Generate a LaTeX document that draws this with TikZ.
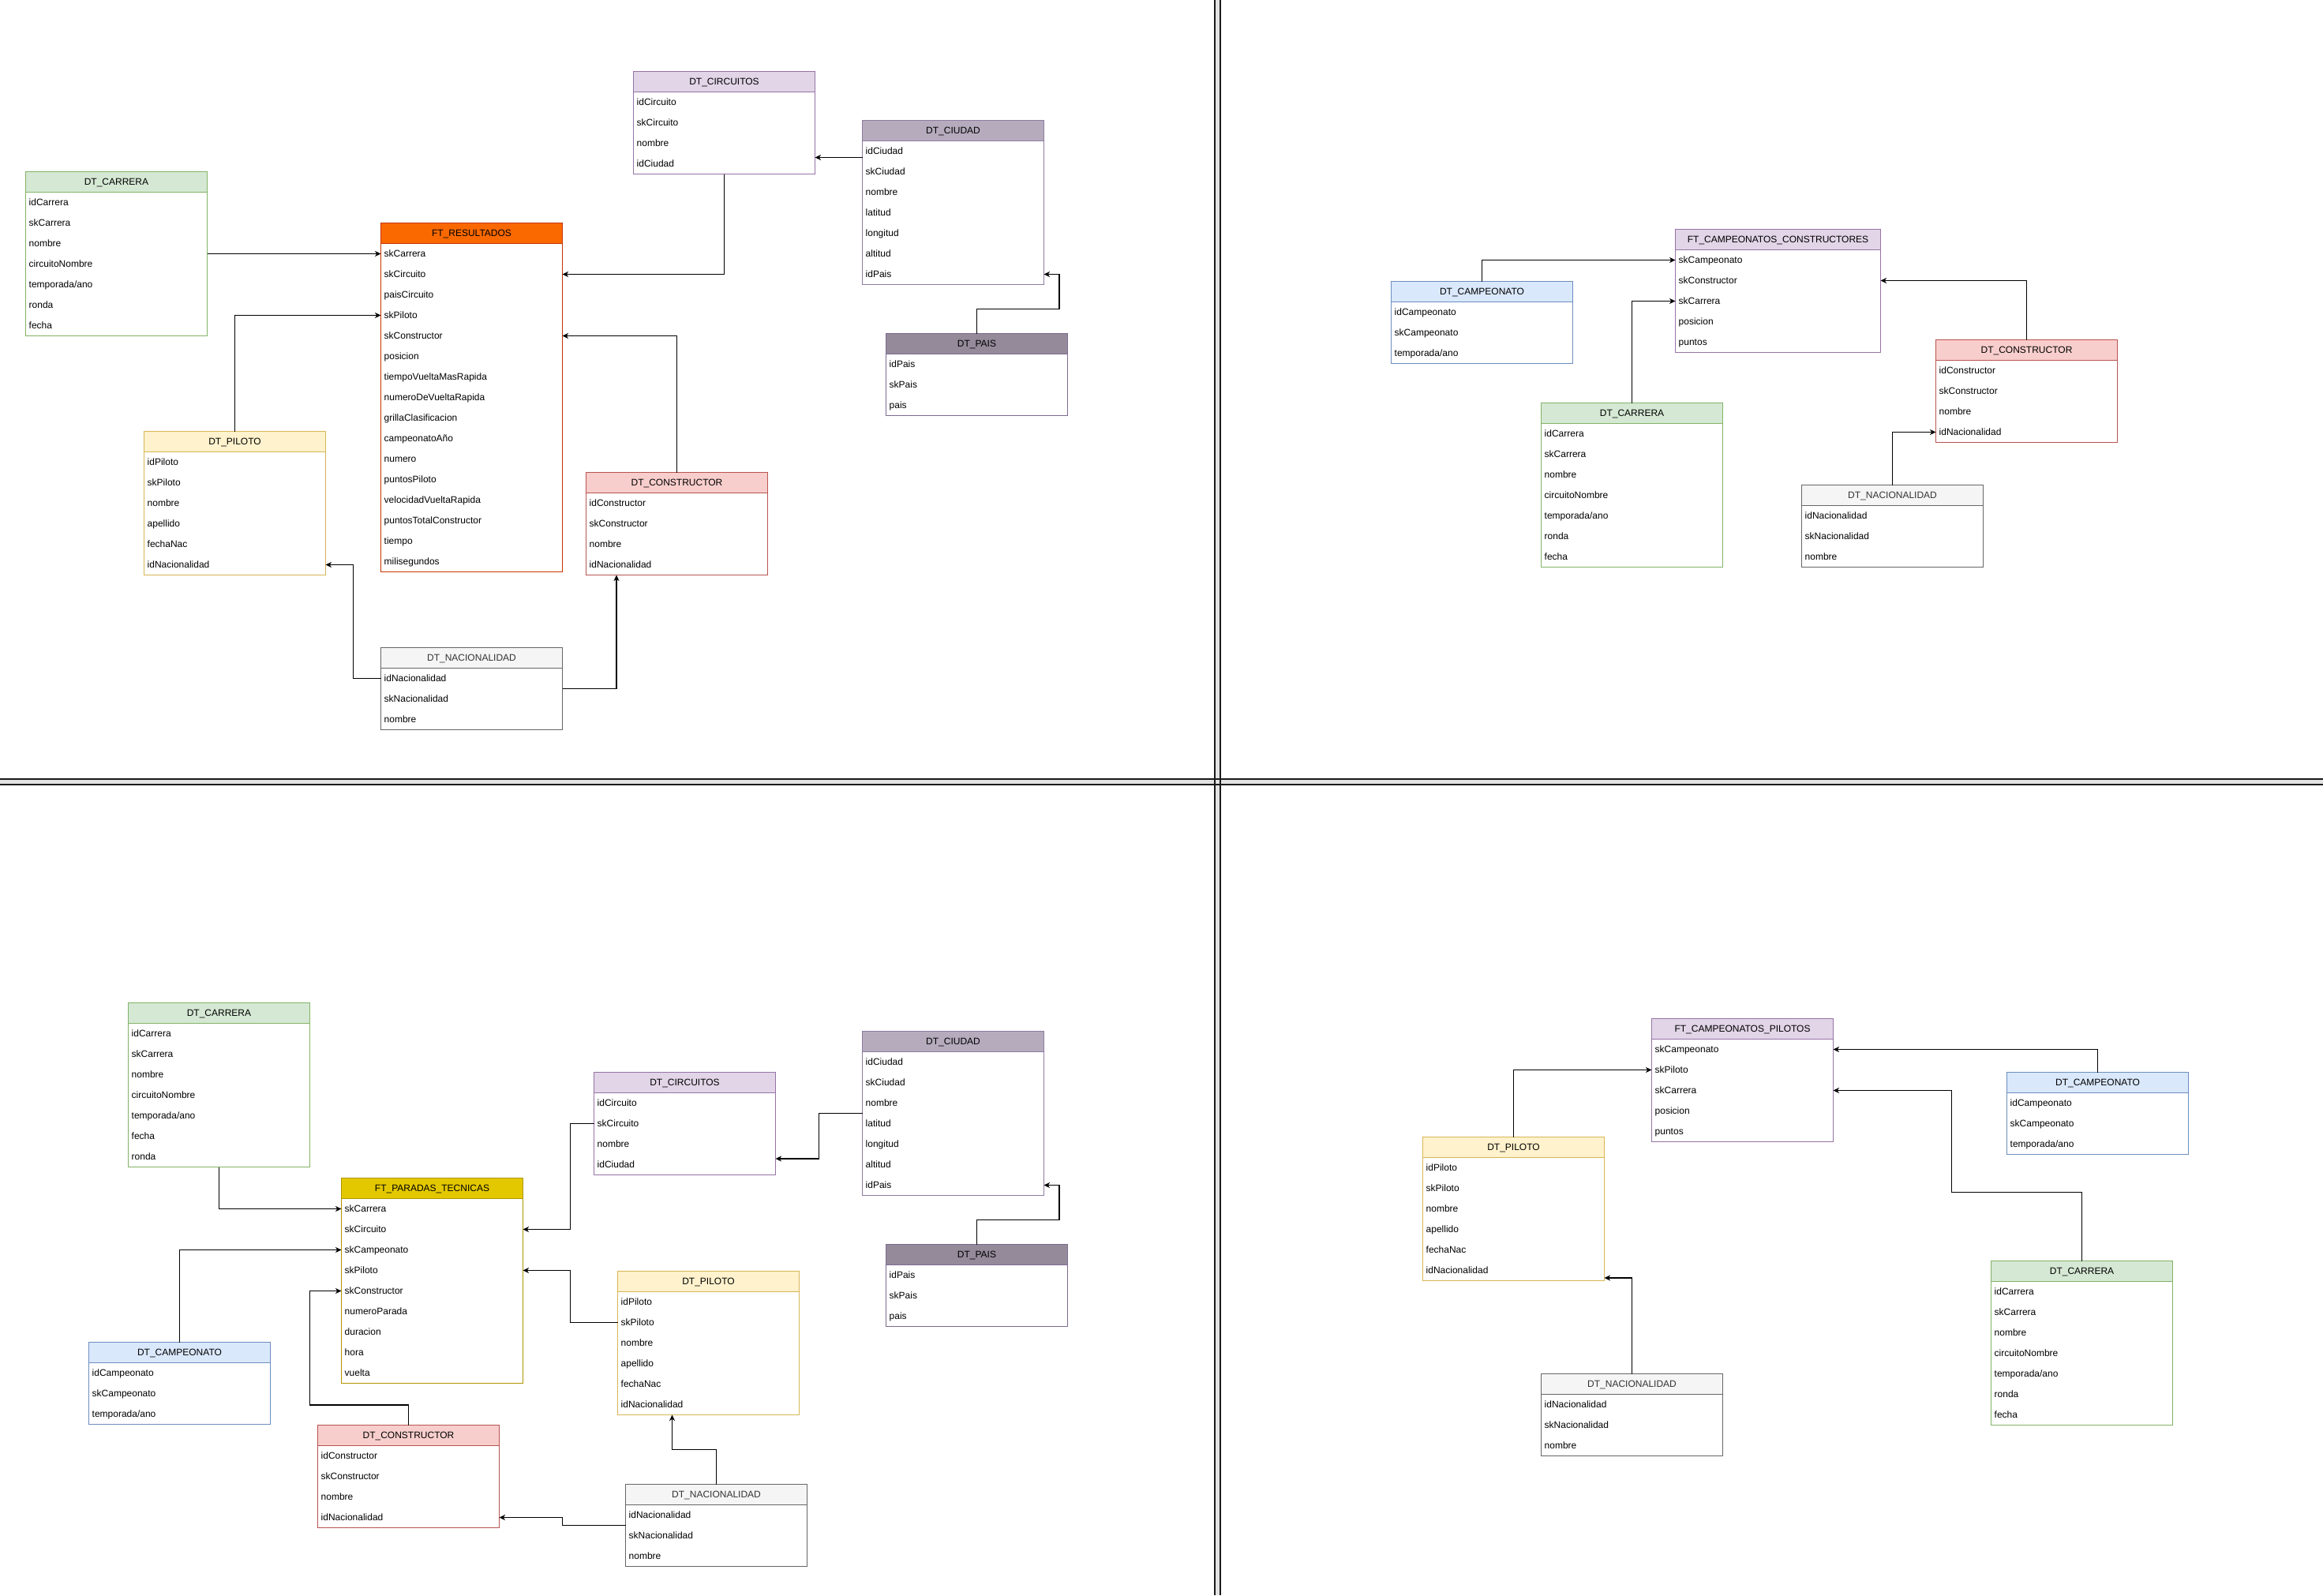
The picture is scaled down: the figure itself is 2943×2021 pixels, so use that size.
\documentclass[tikz,border=0pt]{standalone}
\usepackage{fontspec}
\setmainfont{Liberation Sans}
\usetikzlibrary{arrows.meta,calc}

\definecolor{cGreen}{HTML}{D5E8D4}\definecolor{sGreen}{HTML}{82B366}
\definecolor{cPurple}{HTML}{E1D5E7}\definecolor{sPurple}{HTML}{9673A6}
\definecolor{cCiudad}{HTML}{B5ABBD}\definecolor{sCiudad}{HTML}{8E7CA0}
\definecolor{cPais}{HTML}{948A9A}\definecolor{sPais}{HTML}{7E6A90}
\definecolor{cOrange}{HTML}{FA6800}\definecolor{sOrange}{HTML}{C73500}
\definecolor{cGold}{HTML}{E3C800}\definecolor{sGold}{HTML}{B09500}
\definecolor{cYellow}{HTML}{FFF2CC}\definecolor{sYellow}{HTML}{D6B656}
\definecolor{cRed}{HTML}{F8CECC}\definecolor{sRed}{HTML}{B85450}
\definecolor{cGray}{HTML}{F5F5F5}\definecolor{sGray}{HTML}{666666}
\definecolor{cBlue}{HTML}{DAE8FC}\definecolor{sBlue}{HTML}{6C8EBF}
\definecolor{txtGray}{HTML}{333333}
\definecolor{divLine}{HTML}{1A1A1A}
\definecolor{divBand}{HTML}{E2E2E2}

\tikzset{
  tbl/.style={fill=white, line width=1pt, inner sep=0pt, outer sep=0pt, anchor=north west},
  hdr/.style={inner sep=0pt, text height=8.6pt, text depth=0pt, font=\fontsize{12}{14}\selectfont},
  rowtxt/.style={inner sep=0pt, text height=8.6pt, text depth=0pt, anchor=west, font=\fontsize{12}{14}\selectfont},
  edge/.style={line width=1.3pt, -{Stealth[length=7.5pt,width=7pt,inset=2.2pt]}},
  divider/.style={line width=1.6pt, draw=divLine},
}

% [#1 width], #2 name, #3 x, #4 y, #5 fill, #6 stroke, #7 title, #8 rows
\newcommand{\ertable}[8][230]{%
  \foreach \r [count=\i] in {#8} {\xdef\ernrows{\i}}%
  \pgfmathsetmacro{\erh}{26*(\ernrows+1)}%
  \node[tbl, draw=#6, minimum width=#1pt, minimum height=\erh pt] (#2) at (#3,#4) {};
  \fill[#5] (#3,#4) rectangle ++(#1,26);
  \draw[#6, line width=1pt] (#3,#4+26) -- ++(#1,0);
  \draw[#6, line width=1pt] (#2.north west) rectangle (#2.south east);
  \node[hdr] (#2-h) at (#3+#1/2,#4+13) {#7};
  \foreach \r [count=\i] in {#8} {
    \node[rowtxt] (#2-\i) at (#3+4,#4+26*\i+13) {\r};
    \coordinate (#2-\i-l) at (#3,#4+26*\i+13);
    \coordinate (#2-\i-r) at (#3+#1,#4+26*\i+13);
  }
}

\begin{document}
\begin{tikzpicture}[x=1pt,y=-1pt]
\fill[white] (0,0) rectangle (2943,2021);
\useasboundingbox (0,0) rectangle (2943,2021);

% quadrant dividers
\fill[divBand] (0,987) rectangle (2943,994);
\fill[divBand] (1539,0) rectangle (1546,2021);
\draw[divider] (0,987) -- (2943,987);
\draw[divider] (0,994) -- (2943,994);
\draw[divider] (1539,0) -- (1539,2021);
\draw[divider] (1546,0) -- (1546,2021);

% ---------------- top left ----------------
\ertable{carTL}{32.5}{217.5}{cGreen}{sGreen}{DT\_CARRERA}{idCarrera,skCarrera,nombre,circuitoNombre,temporada/ano,ronda,fecha}
\ertable{resTL}{482.5}{282.5}{cOrange}{sOrange}{FT\_RESULTADOS}{skCarrera,skCircuito,paisCircuito,skPiloto,skConstructor,posicion,tiempoVueltaMasRapida,numeroDeVueltaRapida,grillaClasificacion,campeonatoAño,numero,puntosPiloto,velocidadVueltaRapida,puntosTotalConstructor,tiempo,milisegundos}
\ertable{cirTL}{802.5}{90.5}{cPurple}{sPurple}{DT\_CIRCUITOS}{idCircuito,skCircuito,nombre,idCiudad}
\ertable{ciuTL}{1092.5}{152.5}{cCiudad}{sCiudad}{DT\_CIUDAD}{idCiudad,skCiudad,nombre,latitud,longitud,altitud,idPais}
\ertable{paiTL}{1122.5}{422.5}{cPais}{sPais}{DT\_PAIS}{idPais,skPais,pais}
\ertable{pilTL}{182.5}{546.5}{cYellow}{sYellow}{DT\_PILOTO}{idPiloto,skPiloto,nombre,apellido,fechaNac,idNacionalidad}
\ertable{conTL}{742.5}{598.5}{cRed}{sRed}{DT\_CONSTRUCTOR}{idConstructor,skConstructor,nombre,idNacionalidad}
\ertable{nacTL}{482.5}{820.5}{cGray}{sGray}{\textcolor{txtGray}{DT\_NACIONALIDAD}}{idNacionalidad,skNacionalidad,nombre}

\draw[edge] (carTL.east |- resTL-1-l) -- (resTL-1-l);
\draw[edge] (pilTL.north) |- (resTL-4-l);
\draw[edge] (cirTL.south) |- (resTL-2-r);
\coordinate (m1) at ($(ciuTL-1-l)!0.5!(cirTL-4-r)$);
\draw[edge] (ciuTL.west |- m1) -- (cirTL.east |- m1);
\draw[edge] (paiTL.north) -- ++(0,-31) -| ([xshift=19.5pt]ciuTL-7-r) -- (ciuTL-7-r);
\draw[edge] (conTL.north) |- (resTL-5-r);
\draw[edge] (nacTL-1-l) -- ++(-35,0) |- (pilTL-6-r);
\draw[edge] (nacTL.east) -| ([xshift=-76.5pt]conTL.south);

% ---------------- top right ----------------
\ertable[260]{fccTR}{2122.5}{290.5}{cPurple}{sPurple}{FT\_CAMPEONATOS\_CONSTRUCTORES}{skCampeonato,skConstructor,skCarrera,posicion,puntos}
\ertable{camTR}{1762.5}{356.5}{cBlue}{sBlue}{DT\_CAMPEONATO}{idCampeonato,skCampeonato,temporada/ano}
\ertable{carTR}{1952.5}{510.5}{cGreen}{sGreen}{DT\_CARRERA}{idCarrera,skCarrera,nombre,circuitoNombre,temporada/ano,ronda,fecha}
\ertable{conTR}{2452.5}{430.5}{cRed}{sRed}{DT\_CONSTRUCTOR}{idConstructor,skConstructor,nombre,idNacionalidad}
\ertable{nacTR}{2282.5}{614.5}{cGray}{sGray}{\textcolor{txtGray}{DT\_NACIONALIDAD}}{idNacionalidad,skNacionalidad,nombre}

\draw[edge] (camTR.north) |- (fccTR-1-l);
\draw[edge] (carTR.north) |- (fccTR-3-l);
\draw[edge] (conTR.north) |- (fccTR-2-r);
\draw[edge] (nacTR.north) |- (conTR-4-l);

% ---------------- bottom left ----------------
\ertable{carBL}{162.5}{1270.5}{cGreen}{sGreen}{DT\_CARRERA}{idCarrera,skCarrera,nombre,circuitoNombre,temporada/ano,fecha,ronda}
\ertable{cirBL}{752.5}{1358.5}{cPurple}{sPurple}{DT\_CIRCUITOS}{idCircuito,skCircuito,nombre,idCiudad}
\ertable{ptBL}{432.5}{1492.5}{cGold}{sGold}{FT\_PARADAS\_TECNICAS}{skCarrera,skCircuito,skCampeonato,skPiloto,skConstructor,numeroParada,duracion,hora,vuelta}
\ertable{ciuBL}{1092.5}{1306.5}{cCiudad}{sCiudad}{DT\_CIUDAD}{idCiudad,skCiudad,nombre,latitud,longitud,altitud,idPais}
\ertable{paiBL}{1122.5}{1576.5}{cPais}{sPais}{DT\_PAIS}{idPais,skPais,pais}
\ertable{pilBL}{782.5}{1610.5}{cYellow}{sYellow}{DT\_PILOTO}{idPiloto,skPiloto,nombre,apellido,fechaNac,idNacionalidad}
\ertable{camBL}{112.5}{1700.5}{cBlue}{sBlue}{DT\_CAMPEONATO}{idCampeonato,skCampeonato,temporada/ano}
\ertable{conBL}{402.5}{1805.5}{cRed}{sRed}{DT\_CONSTRUCTOR}{idConstructor,skConstructor,nombre,idNacionalidad}
\ertable{nacBL}{792.5}{1880.5}{cGray}{sGray}{\textcolor{txtGray}{DT\_NACIONALIDAD}}{idNacionalidad,skNacionalidad,nombre}

\draw[edge] (carBL.south) |- (ptBL-1-l);
\draw[edge] (cirBL-2-l) -- ++(-30,0) |- (ptBL-2-r);
\draw[edge] (camBL.north) |- (ptBL-3-l);
\draw[edge] (pilBL-2-l) -- ++(-60,0) |- (ptBL-4-r);
\draw[edge] (conBL.north) -- ++(0,-25.5) -| ([xshift=-40pt]ptBL-5-l) -- (ptBL-5-l);
\draw[edge] (ciuBL.west) -- ++(-55,0) |- ([yshift=7.5pt]cirBL-4-r);
\draw[edge] (paiBL.north) -- ++(0,-31) -| ([xshift=19.5pt]ciuBL-7-r) -- (ciuBL-7-r);
\draw[edge] (nacBL.north) -- ++(0,-44) -| ([xshift=-46pt]pilBL.south);
\draw[edge] (nacBL.west) -- ++(-80,0) |- (conBL-4-r);

% ---------------- bottom right ----------------
\ertable{fcpBR}{2092.5}{1290.5}{cPurple}{sPurple}{FT\_CAMPEONATOS\_PILOTOS}{skCampeonato,skPiloto,skCarrera,posicion,puntos}
\ertable{camBR}{2542.5}{1358.5}{cBlue}{sBlue}{DT\_CAMPEONATO}{idCampeonato,skCampeonato,temporada/ano}
\ertable{pilBR}{1802.5}{1440.5}{cYellow}{sYellow}{DT\_PILOTO}{idPiloto,skPiloto,nombre,apellido,fechaNac,idNacionalidad}
\ertable{carBR}{2522.5}{1597.5}{cGreen}{sGreen}{DT\_CARRERA}{idCarrera,skCarrera,nombre,circuitoNombre,temporada/ano,ronda,fecha}
\ertable{nacBR}{1952.5}{1740.5}{cGray}{sGray}{\textcolor{txtGray}{DT\_NACIONALIDAD}}{idNacionalidad,skNacionalidad,nombre}

\draw[edge] (camBR.north) |- (fcpBR-1-r);
\draw[edge] (pilBR.north) |- (fcpBR-2-l);
\draw[edge] (carBR.north) -- ++(0,-87) -| ([xshift=150pt]fcpBR-3-r) -- (fcpBR-3-r);
\draw[edge] (nacBR.north) |- ([yshift=3.5pt]pilBR.south east);
\end{tikzpicture}
\end{document}
